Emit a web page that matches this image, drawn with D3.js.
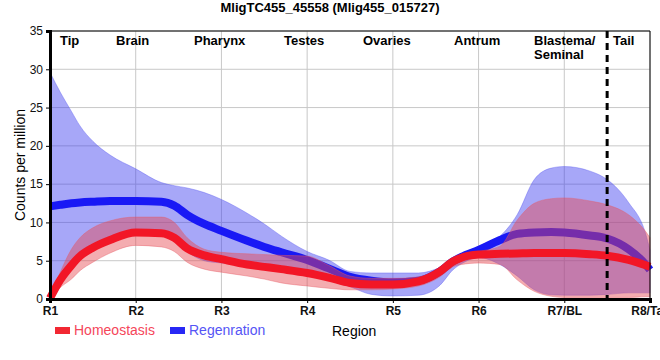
<!DOCTYPE html>
<html>
<head>
<meta charset="utf-8">
<script src="https://cdn.jsdelivr.net/npm/d3@7"></script>
<style>
  html, body { margin: 0; padding: 0; background: #fff; }
  svg { display: block; font-family: "Liberation Sans", Arial, sans-serif; }
</style>
</head>
<body>
<svg id="chart" width="660" height="360"></svg>
<script>
// ---- Data ----
const title = "MligTC455_45558 (Mlig455_015727)";
const regionTicks = ["R1", "R2", "R3", "R4", "R5", "R6", "R7/BL", "R8/Tail"];
const regionNames = [
  { pos: 0, lines: ["Tip"] },
  { pos: 1, lines: ["Brain"] },
  { pos: 2, lines: ["Pharynx"] },
  { pos: 3, lines: ["Testes"] },
  { pos: 4, lines: ["Ovaries"] },
  { pos: 5, lines: ["Antrum"] },
  { pos: 6, lines: ["Blastema/", "Seminal"] },
  { pos: 7, lines: ["Tail"] }
];
const yTicks = [0, 5, 10, 15, 20, 25, 30, 35];
const tailBoundary = 6.5;

// positions along the body (in region units, R1 = 0)
const positions = [0, 0.12, 0.25, 0.35, 0.5, 0.7, 1, 1.3, 1.45, 1.6, 1.8, 2, 2.3, 2.5, 2.7, 3, 3.25, 3.5, 3.75, 4, 4.3, 4.55, 4.7, 4.8, 5, 5.25, 5.45, 5.65, 5.85, 6, 6.3, 6.5, 6.75, 6.95, 7];

const homeoMean  = [0.1, 2.5, 4.4, 5.6, 6.7, 7.7, 8.7, 8.6, 8.0, 6.6, 5.7, 5.2, 4.5, 4.2, 3.9, 3.4, 2.8, 2.1, 1.9, 1.9, 2.3, 3.6, 4.9, 5.4, 5.8, 5.9, 5.95, 6.0, 6.0, 6.0, 5.85, 5.65, 5.1, 4.4, 4.2];
const homeoUpper = [0.2, 3.5, 6.5, 8.0, 9.3, 10.2, 10.7, 10.7, 10.0, 8.0, 6.5, 6.1, 5.9, 5.8, 5.7, 5.6, 4.4, 3.0, 2.7, 2.7, 2.9, 4.0, 5.2, 5.7, 6.2, 6.9, 10.3, 12.5, 13.1, 13.2, 12.8, 12.3, 11.0, 8.8, 8.0];
const homeoLower = [0, 1.5, 2.6, 3.7, 4.8, 6.0, 7.0, 6.8, 6.2, 4.8, 3.9, 3.5, 3.0, 2.6, 2.1, 1.7, 1.4, 1.2, 1.2, 1.3, 1.7, 2.9, 4.2, 4.5, 4.7, 4.5, 2.5, 1.0, 0.35, 0.2, 0.2, 0.2, 0.2, 0.3, 0.3];

const regenMean  = [12.1, 12.3, 12.5, 12.6, 12.7, 12.8, 12.8, 12.7, 12.2, 11.0, 9.8, 8.9, 7.6, 6.8, 6.1, 5.1, 4.0, 2.9, 2.4, 2.2, 2.4, 3.6, 4.9, 5.5, 6.4, 7.7, 8.5, 8.7, 8.75, 8.7, 8.3, 7.9, 6.5, 4.5, 3.8];
const regenUpper = [29.6, 27.0, 24.5, 22.6, 20.6, 18.8, 17.0, 15.2, 14.8, 14.5, 13.9, 13.0, 11.2, 9.8, 8.2, 6.2, 5.1, 3.6, 3.4, 3.4, 3.4, 4.1, 4.9, 5.5, 6.9, 8.2, 11.0, 15.6, 17.1, 17.3, 16.7, 15.6, 12.6, 8.5, 6.4];
const regenLower = [0.2, 2.5, 4.5, 5.8, 7.0, 7.8, 8.3, 8.3, 7.8, 6.2, 5.0, 4.7, 4.4, 4.2, 4.0, 3.5, 2.5, 1.6, 0.6, 0.4, 0.5, 1.8, 3.8, 4.6, 5.4, 4.5, 3.0, 1.2, 0.55, 0.5, 0.5, 0.6, 0.8, 0.8, 0.8];

const seriesNames = ["Homeostasis", "Regenration"];

// ---- Layout ----
const svg = d3.select("#chart");
const margin = { left: 50, right: 10, top: 31, bottom: 61 };
const W = 660, H = 360;
const x = d3.scaleLinear().domain([0, 7]).range([margin.left, W - margin.right]);
const y = d3.scaleLinear().domain([0, 35]).range([H - margin.bottom, margin.top]);

// grid
const g = svg.append("g");
g.selectAll("line.hgrid").data(yTicks).enter().append("line")
  .attr("x1", x(0)).attr("x2", x(7))
  .attr("y1", d => y(d)).attr("y2", d => y(d))
  .attr("stroke", "#c8c8c8").attr("stroke-width", 1);
g.selectAll("line.vgrid").data(d3.range(regionTicks.length)).enter().append("line")
  .attr("x1", d => x(d)).attr("x2", d => x(d))
  .attr("y1", y(0)).attr("y2", y(35))
  .attr("stroke", "#c8c8c8").attr("stroke-width", 1);

function rows(mean, lo, hi) {
  return positions.map((p, i) => ({ p, m: mean[i], lo: lo[i], hi: hi[i] }));
}
const homeo = rows(homeoMean, homeoLower, homeoUpper);
const regen = rows(regenMean, regenLower, regenUpper);

const curve = d3.curveMonotoneX;
const area = d3.area().curve(curve).x(d => x(d.p)).y0(d => y(d.lo)).y1(d => y(d.hi));
const line = d3.line().curve(curve).x(d => x(d.p)).y(d => y(d.m));

// Regeneration band + line
svg.append("path").datum(regen).attr("d", area)
  .attr("fill", "rgb(60,60,240)").attr("fill-opacity", 0.45)
  .attr("stroke", "rgb(90,90,240)").attr("stroke-opacity", 0.5).attr("stroke-width", 0.8);
svg.append("path").datum(regen).attr("d", line)
  .attr("fill", "none").attr("stroke", "rgb(25,25,245)").attr("stroke-width", 8);

// Homeostasis band + line
svg.append("path").datum(homeo).attr("d", area)
  .attr("fill", "rgb(230,70,80)").attr("fill-opacity", 0.45)
  .attr("stroke", "rgb(230,90,100)").attr("stroke-opacity", 0.5).attr("stroke-width", 0.8);
svg.append("path").datum(homeo).attr("d", line)
  .attr("fill", "none").attr("stroke", "rgb(242,22,38)").attr("stroke-width", 8);

// frame: thin top/right, thick left/bottom
svg.append("line").attr("x1", x(0)).attr("x2", x(7)).attr("y1", y(35)).attr("y2", y(35))
  .attr("stroke", "#000").attr("stroke-width", 1);
svg.append("line").attr("x1", x(7)).attr("x2", x(7)).attr("y1", y(35)).attr("y2", y(0))
  .attr("stroke", "#000").attr("stroke-width", 1);

// dashed tail boundary
svg.append("line").attr("x1", x(tailBoundary)).attr("x2", x(tailBoundary))
  .attr("y1", y(35)).attr("y2", y(0))
  .attr("stroke", "#000").attr("stroke-width", 3).attr("stroke-dasharray", "7,5");

// axes
const yAxis = d3.axisLeft(y).tickValues(yTicks).tickSize(4).tickPadding(3);
const yg = svg.append("g").attr("transform", `translate(${x(0)},0)`).call(yAxis);
yg.select(".domain").attr("stroke-width", 3).attr("stroke", "#000");
yg.selectAll("text").attr("font-size", 12).attr("fill", "#111")
  .attr("font-family", "Liberation Sans, Arial, sans-serif");

const xAxis = d3.axisBottom(x).tickValues(d3.range(regionTicks.length))
  .tickFormat(i => regionTicks[i]).tickSize(4).tickPadding(3);
const xg = svg.append("g").attr("transform", `translate(0,${y(0)})`).call(xAxis);
xg.select(".domain").attr("stroke-width", 3).attr("stroke", "#000");
xg.selectAll("text").attr("font-size", 12).attr("font-weight", "bold").attr("fill", "#111")
  .attr("font-family", "Liberation Sans, Arial, sans-serif");

// region names at top
const rn = svg.append("g").attr("font-size", 13).attr("font-weight", "bold").attr("fill", "#000");
const nameX = [60, 116, 194, 284, 363, 454, 534, 613];
regionNames.forEach((r, i) => {
  r.lines.forEach((ln, j) => {
    rn.append("text").attr("x", nameX[i]).attr("y", 45 + j * 14).text(ln);
  });
});

// title
svg.append("text").attr("x", 330).attr("y", 12).attr("text-anchor", "middle")
  .attr("font-size", 13).attr("font-weight", "bold").text(title);

// y axis title
svg.append("text").attr("transform", `translate(25,${(y(0) + y(35)) / 2}) rotate(-90)`)
  .attr("text-anchor", "middle").attr("font-size", 14).text("Counts per million");

// x axis title
svg.append("text").attr("x", 332).attr("y", 336).attr("font-size", 14).text("Region");

// legend
const legendColors = ["rgb(242,40,50)", "rgb(40,40,245)"];
const legendText = ["rgb(245,70,90)", "rgb(85,85,245)"];
const legendX = [55, 170];
seriesNames.forEach((s, i) => {
  svg.append("rect").attr("x", legendX[i]).attr("y", 327).attr("width", 15).attr("height", 7)
    .attr("fill", legendColors[i]);
  svg.append("text").attr("x", legendX[i] + 19).attr("y", 335).attr("font-size", 14)
    .attr("fill", legendText[i]).text(s);
});
</script>
</body>
</html>
